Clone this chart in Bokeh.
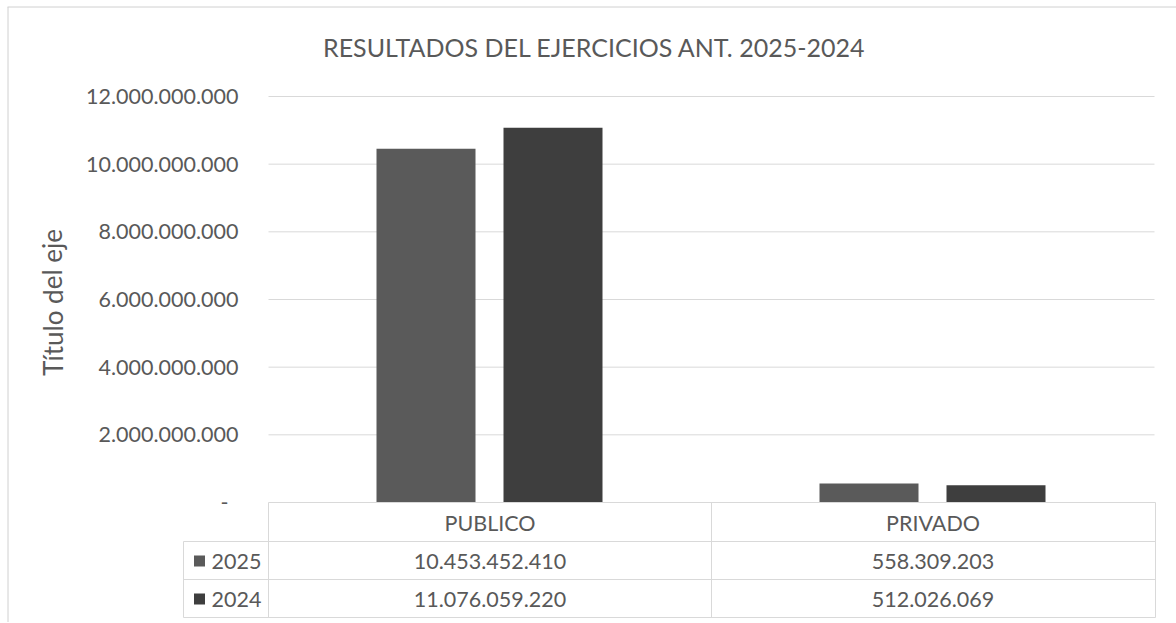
from bokeh.plotting import figure
from bokeh.models import Range1d
from bokeh.core.properties import value
from bokeh.embed import file_html
from bokeh.resources import INLINE

# ---- data ----
title = "RESULTADOS DEL EJERCICIOS ANT. 2025-2024"
axis_title = "Título del eje"
categories = ["PUBLICO", "PRIVADO"]
series_names = ["2025", "2024"]
values_2025 = [10453452410, 558309203]
values_2024 = [11076059220, 512026069]
tick_values = [0, 2e9, 4e9, 6e9, 8e9, 10e9, 12e9]
tick_labels = ["-", "2.000.000.000", "4.000.000.000", "6.000.000.000",
               "8.000.000.000", "10.000.000.000", "12.000.000.000"]
table_values = [["10.453.452.410", "558.309.203"],
                ["11.076.059.220", "512.026.069"]]

# ---- layout (page pixels) ----
W, H = 1176, 622
PLOT_L, PLOT_R = 268, 1154   # plot area x
Y_ZERO, Y_TOP = 502, 96      # page y of 0 and 12e9
YMAX = 12e9
k = YMAX / (Y_ZERO - Y_TOP)  # value per pixel

def vy(py):
    """page y pixel -> data y"""
    return (Y_ZERO - py) * k

colors = ["#5a5a5a", "#3e3e3e"]
text_color = "#595959"
grid_color = "#d9d9d9"
FONT = value("Lato")
FS = "21.5px"

p = figure(width=W, height=H, output_backend="svg", toolbar_location=None,
           x_range=Range1d(0, W), y_range=Range1d(vy(H), vy(0)),
           min_border=0, tools="")
p.axis.visible = False
p.grid.visible = False
p.outline_line_color = None
p.background_fill_color = "white"
p.border_fill_color = "white"

# outer chart border (top and left)
p.segment(x0=[7, 7.5], y0=[vy(6.5), vy(6.5)], x1=[W, 7.5], y1=[vy(6.5), vy(H)],
          line_color="#d0d0d0", line_width=1)

# gridlines
p.segment(x0=[PLOT_L] * 6, x1=[PLOT_R] * 6, y0=tick_values[1:], y1=tick_values[1:],
          line_color=grid_color, line_width=1)

# tick labels
p.text(x=[238] * (len(tick_values) - 1), y=tick_values[1:], text=tick_labels[1:],
       text_align="right", text_baseline="middle", text_font=FONT,
       text_font_size=FS, text_color=text_color)
p.text(x=[224], y=tick_values[:1], text=tick_labels[:1],
       text_align="center", text_baseline="middle", text_font=FONT,
       text_font_size=FS, text_color=text_color)

# axis title
p.text(x=[52], y=[vy(302)], text=[axis_title], angle=1.5708,
       text_align="center", text_baseline="middle", text_font=FONT,
       text_font_size="26px", text_color=text_color)

# title
p.text(x=[594], y=[vy(46)], text=[title], text_align="center",
       text_baseline="middle", text_font=FONT, text_font_size="25px",
       text_color=text_color)

# bars
cat_w = (PLOT_R - PLOT_L) / len(categories)
centers = [PLOT_L + (i + 0.5) * cat_w for i in range(len(categories))]
bar_w = 99
offsets = [-64, 63]
for s, vals in enumerate([values_2025, values_2024]):
    p.vbar(x=[c + offsets[s] for c in centers], top=vals, bottom=0, width=bar_w,
           fill_color=colors[s], line_color=None)

# data table
T_LEFT = 183
rows_y = [502, 541, 579, 617]
p.segment(x0=[PLOT_L, T_LEFT, T_LEFT, T_LEFT], x1=[PLOT_R + 1] * 4,
          y0=[vy(r) for r in rows_y], y1=[vy(r) for r in rows_y],
          line_color=grid_color, line_width=1)
vx = [T_LEFT, PLOT_L, PLOT_L + cat_w, PLOT_R + 1]
vtop = [541, 502, 502, 502]
p.segment(x0=vx, x1=vx, y0=[vy(t) for t in vtop], y1=[vy(617)] * 4,
          line_color=grid_color, line_width=1)

# header row
p.text(x=centers, y=[vy(522)] * 2, text=categories, text_align="center",
       text_baseline="middle", text_font=FONT, text_font_size=FS,
       text_color=text_color)
# value rows
for r in range(2):
    cy = (rows_y[r + 1] + rows_y[r + 2]) / 2 + 0.5
    p.text(x=centers, y=[vy(cy)] * 2, text=table_values[r], text_align="center",
           text_baseline="middle", text_font=FONT, text_font_size=FS,
           text_color=text_color)
    p.scatter(x=[199], y=[vy(cy)], marker="square", size=11,
              fill_color=colors[r], line_color=None)
    p.text(x=[211], y=[vy(cy)], text=[series_names[r]], text_align="left",
           text_baseline="middle", text_font=FONT, text_font_size=FS,
           text_color=text_color)

open("out.html", "w").write(file_html(p, INLINE))
